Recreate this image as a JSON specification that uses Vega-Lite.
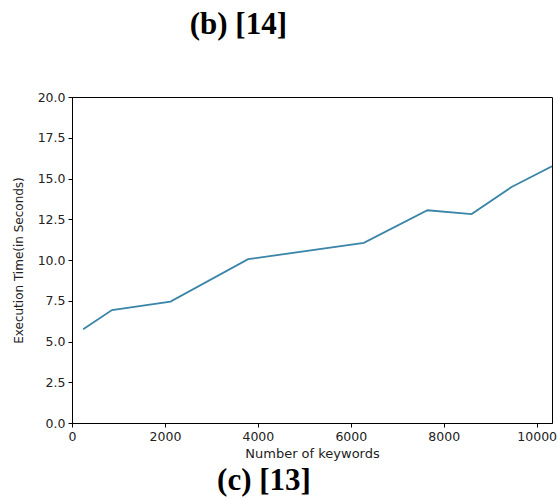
{
  "$schema": "https://vega.github.io/schema/vega-lite/v6.json",
  "background": "white",
  "padding": {"left": 11, "top": 8, "right": 4, "bottom": 2},
  "title": {"text": "(b) [14]", "font": "Liberation Serif", "fontSize": 31, "fontWeight": "bold", "color": "#000", "anchor": "middle", "dx": -46, "offset": 50},
  "vconcat": [
    {
      "width": 480,
      "height": 326,
      "title": {"text": "(c) [13]", "orient": "bottom", "font": "Liberation Serif", "fontSize": 31, "fontWeight": "bold", "color": "#000", "anchor": "middle", "dx": -48, "offset": 5},
      "data": {"values": [
        {"keywords": 240, "time": 5.75},
        {"keywords": 860, "time": 6.93},
        {"keywords": 2120, "time": 7.45},
        {"keywords": 3790, "time": 10.05},
        {"keywords": 6280, "time": 11.05},
        {"keywords": 7650, "time": 13.05},
        {"keywords": 8600, "time": 12.82},
        {"keywords": 9460, "time": 14.48},
        {"keywords": 10330, "time": 15.75}
      ]},
      "mark": {"type": "line", "color": "#3a85a8", "strokeWidth": 1.8, "clip": true},
      "encoding": {
        "x": {"field": "keywords", "type": "quantitative", "title": "Number of keywords",
              "scale": {"domain": [0, 10330], "nice": false, "zero": false},
              "axis": {"values": [0, 2000, 4000, 6000, 8000, 10000], "format": "d", "labelFontSize": 12.5, "titleFontSize": 13}},
        "y": {"field": "time", "type": "quantitative", "title": "Execution Time(in Seconds)",
              "scale": {"domain": [0, 20], "nice": false},
              "axis": {"values": [0, 2.5, 5, 7.5, 10, 12.5, 15, 17.5, 20], "format": ".1f", "labelFontSize": 12.5, "titleFontSize": 12}}
      }
    }
  ],
  "config": {
    "view": {"stroke": "#000", "strokeWidth": 1},
    "axis": {
      "grid": false,
      "domainColor": "#000",
      "domainWidth": 1,
      "tickColor": "#000",
      "tickSize": 4,
      "tickWidth": 1,
      "labelFont": "DejaVu Sans",
      "labelColor": "#222",
      "labelPadding": 3,
      "titleFont": "DejaVu Sans",
      "titleFontWeight": "normal",
      "titleColor": "#222",
      "labelFlush": false,
      "labelOverlap": false
    },
    "axisX": {"titlePadding": 5},
    "axisY": {"titlePadding": 12}
  }
}
